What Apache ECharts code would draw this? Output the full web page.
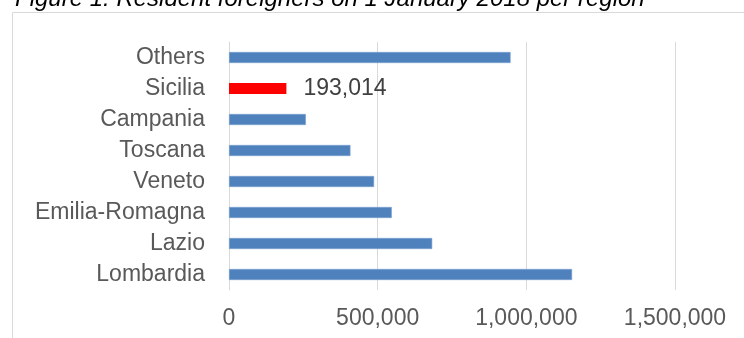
<!DOCTYPE html>
<html>
<head>
<meta charset="utf-8">
<script src="https://cdn.jsdelivr.net/npm/echarts@6/dist/echarts.min.js"></script>
<style>
  html, body { margin: 0; padding: 0; background: #fff; }
  #chart { width: 744px; height: 338px; }
</style>
</head>
<body>
<div id="chart"></div>
<script>
// Resident foreigners by region, 1 January 2018
const regions = ['Lombardia', 'Lazio', 'Emilia-Romagna', 'Veneto', 'Toscana', 'Campania', 'Sicilia', 'Others'];
const residents = [1153835, 683409, 547537, 487893, 408463, 258524, 193014, 947000];
const highlightRegion = 'Sicilia';
const axisTicks = [0, 500000, 1000000, 1500000];

const fmt = v => v.toLocaleString('en-US');
const FONT = '"Liberation Sans", Arial, sans-serif';
const LABEL_SIZE = 23;

const chart = echarts.init(document.getElementById('chart'), null, { renderer: 'canvas' });

chart.setOption({
  animation: false,
  backgroundColor: '#ffffff',
  textStyle: { fontFamily: FONT },
  graphic: [
    {
      type: 'text',
      x: 15,
      y: -1,
      style: {
        text: 'Figure 1: Resident foreigners on 1 January 2018 per region',
        font: 'italic 24px ' + FONT,
        fill: '#000000',
        verticalAlign: 'middle'
      }
    },
    {
      type: 'rect',
      shape: { x: 12.5, y: 12.5, width: 760, height: 360 },
      style: { fill: 'none', stroke: '#d9d9d9', lineWidth: 1 },
      silent: true
    }
  ],
  grid: { left: 229, right: 69, top: 42, bottom: 48, containLabel: false },
  xAxis: {
    type: 'value',
    min: axisTicks[0],
    max: axisTicks[axisTicks.length - 1],
    interval: axisTicks[1] - axisTicks[0],
    axisLine: { show: false },
    axisTick: { show: false },
    splitLine: { show: true, lineStyle: { color: '#d9d9d9', width: 1 } },
    axisLabel: { color: '#595959', fontSize: LABEL_SIZE, margin: 17, formatter: fmt }
  },
  yAxis: {
    type: 'category',
    data: regions,
    axisLine: { show: true, lineStyle: { color: '#d9d9d9' } },
    axisTick: { show: false },
    axisLabel: { color: '#595959', fontSize: LABEL_SIZE, margin: 24 }
  },
  series: [{
    type: 'bar',
    barWidth: 11,
    data: regions.map((r, i) => ({
      value: residents[i],
      itemStyle: r === highlightRegion
        ? { color: '#ff0000' }
        : { color: '#4f81bd', borderColor: '#7aa0d0', borderWidth: 0.6 },
      label: r === highlightRegion
        ? { show: true, position: 'right', distance: 17, color: '#404040', fontSize: LABEL_SIZE, formatter: p => fmt(p.value) }
        : { show: false }
    }))
  }]
});
</script>
</body>
</html>
